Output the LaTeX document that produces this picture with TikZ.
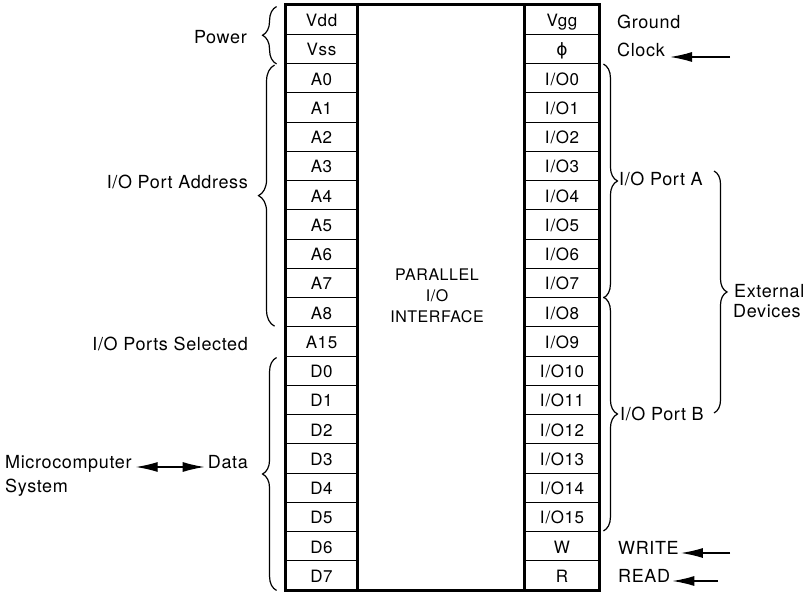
\documentclass[tikz,border=0pt]{standalone}
\usepackage{fontspec}
\setmainfont{TeX Gyre Heros}
\newfontfamily\spacedfam[LetterSpace=3.5]{TeX Gyre Heros}
\newfontfamily\symfam{DejaVu Sans}
\newcommand\labfnt{\spacedfam\fontsize{18}{21}\selectfont}
\newcommand\cellfnt{\spacedfam\fontsize{17}{19}\selectfont}
\newcommand\corefnt{\spacedfam\fontsize{16}{21}\selectfont}
\newcommand\ioname{I\kern1pt/\kern0.5pt O}
\usetikzlibrary{arrows.meta,decorations.pathreplacing,calc}
\begin{document}
\begin{tikzpicture}[x=1pt,y=-1pt,
  cell/.style={draw, line width=0.9pt, minimum height=29.25pt, inner sep=0pt,
    text height=14pt, text depth=0pt, font=\cellfnt},
  lcell/.style={cell, minimum width=71pt},
  rcell/.style={cell, minimum width=74pt},
  lab/.style={inner sep=0pt, font=\labfnt},
  frame/.style={line width=2.4pt},
  brc/.style={decorate, decoration={brace, amplitude=#1}, line width=1.2pt},
  arr/.style={line width=1.4pt, -{Latex[length=22pt,width=10pt]}},
  darr/.style={line width=1.4pt, {Latex[length=22pt,width=10pt]}-{Latex[length=22pt,width=10pt]}}
  ]
\useasboundingbox (0,0) rectangle (808,593);

% cells
\foreach \t [count=\i from 0] in {Vdd,Vss,A0,A1,A2,A3,A4,A5,A6,A7,A8,A15,D0,D1,D2,D3,D4,D5,D6,D7}
  \node[lcell] (L\i) at (321.5,{19.625+29.25*\i}) {\t};
\foreach \t [count=\i from 0] in {Vgg,{\symfam ϕ},\ioname0,\ioname1,\ioname2,\ioname3,\ioname4,\ioname5,\ioname6,\ioname7,\ioname8,\ioname9,\ioname10,\ioname11,\ioname12,\ioname13,\ioname14,\ioname15,W,R}
  \node[rcell] (R\i) at (562,{19.625+29.25*\i}) {\t};

% chip outline
\draw[frame] (L0.north west) rectangle (R19.south east);
\draw[frame] (L0.north west) -- (L19.south west);
\draw[frame] (L0.north east) -- (L19.south east);
\draw[frame] (R0.north west) -- (R19.south west);
\draw[frame] (R0.north east) -- (R19.south east);

\node[font=\corefnt, align=center, inner sep=0pt] (core) at (437,296) {PARALLEL\\I/O\\INTERFACE};

% left labels
\node[lab, anchor=base east] (power) at (247,44) {Power};
\node[lab, anchor=base east] (addr) at (248,189) {I/O Port Address};
\node[lab, anchor=base east] (sel) at (248,351) {I/O Ports Selected};
\node[lab, anchor=base east] (data) at (248,468) {Data};
\node[lab, anchor=base west] (micro) at (5,468) {Microcomputer};
\node[lab, anchor=base west] (sys) at (5,492) {System};

% left braces
\draw[brc=14pt] ([xshift=-9pt]L1.south west) -- ([xshift=-9pt,yshift=-2pt]L0.north west);
\draw[brc=16pt] ([xshift=-11pt,yshift=1pt]L10.south west) -- ([xshift=-11pt,yshift=-2pt]L2.north west);
\draw[brc=14pt] ([xshift=-9pt]L19.south west) -- ([xshift=-9pt,yshift=-2pt]L12.north west);

% double arrow
\draw[darr] ($(micro.base east)+(4,-1)$) -- ($(data.base west)+(-3,-1)$);

% right labels
\node[lab, anchor=base west] (ground) at (617,29) {Ground};
\node[lab, anchor=base west] (clock) at (617,57) {Clock};
\node[lab, anchor=base west] (porta) at (619,186) {I/O Port A};
\node[lab, anchor=base west] (portb) at (620,420) {I/O Port B};
\node[lab, anchor=base west] (ext) at (734,298) {External};
\node[lab, anchor=base west] (dev) at (733,318) {Devices};
\node[lab, anchor=base west] (write) at (618,554) {WRITE};
\node[lab, anchor=base west] (read) at (618,582) {READ};

% right braces
\draw[brc=14pt] ([xshift=4pt,yshift=-1pt]R2.north east) -- ([xshift=4pt]R9.south east);
\draw[brc=14pt] ([xshift=4pt]R10.north east) -- ([xshift=4pt,yshift=1pt]R17.south east);
\coordinate (exttop) at (714,171);
\coordinate (extbot) at (714,413);
\draw[brc=13pt] (exttop) -- (extbot);

% input arrows
\coordinate (clksrc) at (730,57);
\coordinate (wrsrc) at (730,553);
\coordinate (rdsrc) at (718,581);
\draw[arr] (clksrc) -- ($(clock.base east)+(5,0)$);
\draw[arr] (wrsrc) -- ($(write.base east)+(2,-1)$);
\draw[arr] (rdsrc) -- ($(read.base east)+(2,-1)$);
\end{tikzpicture}
\end{document}
